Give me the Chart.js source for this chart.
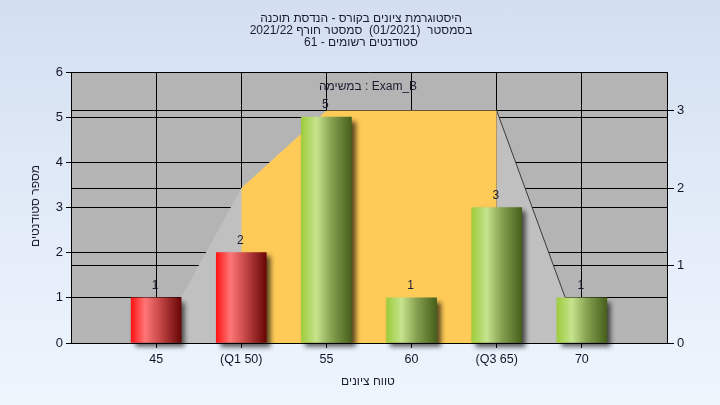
<!DOCTYPE html>
<html>
<head>
<meta charset="utf-8">
<script src="https://cdn.jsdelivr.net/npm/chart.js@4.4.1/dist/chart.umd.min.js"></script>
<style>
  html, body { margin: 0; padding: 0; }
  body { width: 720px; height: 405px; background: linear-gradient(to bottom, #d3dff1 0%, #e4edf9 60%, #eef5fd 100%); }
  #wrap { position: relative; width: 720px; height: 405px; }
  #gradeChart { position: absolute; left: 0; top: 0; }
  .lbl {
    position: absolute;
    font: 12px "Liberation Sans", "DejaVu Sans", Arial, sans-serif;
    line-height: 12px;
    color: #1c1c30;
    white-space: pre;
    transform: translate(-50%, -50%);
  }
  .rot { transform: translate(-50%, -50%) rotate(-90deg); }
</style>
</head>
<body>
<div id="wrap">
  <canvas id="gradeChart" width="720" height="405"></canvas>
</div>
<script>
// data
const gradeValues = [45, 50, 55, 60, 65, 70];
const gradeLabels = ['45', '(Q1 50)', '55', '60', '(Q3 65)', '70'];
const studentCounts = [1, 2, 5, 1, 3, 1];
const curveValues = [0, 2, 3, 3, 3, 0];   // background envelope, right axis
const q1 = 50;
const q3 = 65;

const titleLines = [
    'היסטוגרמת ציונים בקורס - הנדסת תוכנה',
    'בסמסטר  (01/2021)  סמסטר חורף 2021/22',
    'סטודנטים רשומים - 61'
];
const examLabel = 'במשימה : Exam_B';
const xTitle = 'טווח ציונים';
const yTitle = 'מספר סטודנטים';

const FONT = '"Liberation Sans", "DejaVu Sans", Arial, sans-serif';
Chart.defaults.font.family = FONT;
Chart.defaults.font.size = 12;
Chart.defaults.color = '#15152a';

// text overlays
const wrap = document.getElementById('wrap');
function addLabel(text, x, y, cls) {
    const d = document.createElement('div');
    d.className = 'lbl' + (cls ? ' ' + cls : '');
    d.textContent = text;
    d.style.left = x + 'px';
    d.style.top = y + 'px';
    wrap.appendChild(d);
}
titleLines.forEach((t, i) => addLabel(t, 361, 18 + i * 12));
addLabel(examLabel, 368, 86);
addLabel(xTitle, 368, 381);
addLabel(yTitle, 35, 206, 'rot');

const barData = gradeValues.map((g, i) => ({ x: g, y: studentCounts[i] }));
const curveData = gradeValues.map((g, i) => ({ x: g, y: curveValues[i] }));
const iqrData = curveData.filter(p => p.x >= q1 && p.x <= q3);

function barGradient(c) {
    if (c.type !== 'data' || !c.raw) return '#999';
    const chart = c.chart;
    const low = c.raw.x <= q1;
    const cx = chart.scales.x ? chart.scales.x.getPixelForValue(c.raw.x) : NaN;
    if (!isFinite(cx)) return low ? '#d03030' : '#90b048';
    const g = chart.ctx.createLinearGradient(cx - 25, 0, cx + 25, 0);
    if (low) {
        g.addColorStop(0, '#ff1414');
        g.addColorStop(0.28, '#ff7676');
        g.addColorStop(0.55, '#cc4b4b');
        g.addColorStop(1, '#680606');
    } else {
        g.addColorStop(0, '#9ccc3c');
        g.addColorStop(0.3, '#c6e38e');
        g.addColorStop(0.6, '#86a14f');
        g.addColorStop(1, '#46601c');
    }
    return g;
}

const plotBackground = {
    id: 'plotBackground',
    beforeDraw(chart) {
        const { ctx, chartArea: a } = chart;
        ctx.save();
        ctx.fillStyle = '#b4b4b4';
        ctx.fillRect(a.left, a.top, a.right - a.left, a.bottom - a.top);
        ctx.restore();
    }
};

const barShadow = {
    id: 'barShadow',
    beforeDatasetDraw(chart, args) {
        if (args.index !== 0) return;
        const ctx = chart.ctx;
        ctx.save();
        ctx.shadowColor = 'rgba(0,0,0,0.65)';
        ctx.shadowBlur = 5;
        ctx.shadowOffsetX = 4;
        ctx.shadowOffsetY = 4;
    },
    afterDatasetDraw(chart, args) {
        if (args.index !== 0) return;
        chart.ctx.restore();
    }
};

// value labels over the bars
const barValues = {
    id: 'barValues',
    afterDatasetsDraw(chart) {
        const ctx = chart.ctx;
        ctx.save();
        ctx.textAlign = 'center';
        ctx.textBaseline = 'middle';
        ctx.fillStyle = '#1c1c30';
        ctx.font = '12px ' + FONT;
        chart.getDatasetMeta(0).data.forEach((bar, i) => {
            ctx.fillText(String(studentCounts[i]), bar.x - 1, bar.y - 12);
        });
        ctx.restore();
    }
};

const ctx = document.getElementById('gradeChart').getContext('2d');
const gradeChart = new Chart(ctx, {
    data: {
        datasets: [
            {
                type: 'bar',
                data: barData,
                xAxisID: 'x',
                yAxisID: 'y',
                backgroundColor: barGradient,
                borderWidth: 0,
                barThickness: 50,
                clip: false,
                order: 0
            },
            {
                type: 'line',
                data: iqrData,
                xAxisID: 'x',
                yAxisID: 'y2',
                fill: 'origin',
                backgroundColor: '#ffcb58',
                borderWidth: 0,
                pointRadius: 0,
                order: 1
            },
            {
                type: 'line',
                data: curveData,
                xAxisID: 'x',
                yAxisID: 'y2',
                fill: 'origin',
                backgroundColor: '#c0c0c0',
                borderWidth: 1,
                borderColor: '#3a3a3a',
                segment: {
                    borderColor: c => c.p0.parsed.x >= q3 ? '#3a3a3a' : 'rgba(0,0,0,0)'
                },
                pointRadius: 0,
                order: 2
            }
        ]
    },
    options: {
        responsive: false,
        animation: false,
        layout: { padding: { top: 72, left: 0, right: 0, bottom: 0 } },
        plugins: {
            legend: { display: false },
            tooltip: { enabled: false }
        },
        scales: {
            x: {
                type: 'linear',
                position: 'bottom',
                min: 40,
                max: 75,
                offset: false,
                afterBuildTicks: s => { s.ticks = gradeValues.map(v => ({ value: v })); },
                afterFit: s => { s.height = 62; },
                grid: { color: '#000', lineWidth: 1, tickLength: 5, offset: false },
                border: { color: '#000', width: 1 },
                ticks: {
                    padding: 4,
                    font: { size: 12.5 },
                    color: '#15152a',
                    callback: v => gradeLabels[gradeValues.indexOf(v)] ?? ''
                }
            },
            y: {
                position: 'left',
                min: 0,
                max: 6,
                afterBuildTicks: s => { s.ticks = [0, 1, 2, 3, 4, 5, 6].map(v => ({ value: v })); },
                afterFit: s => { s.width = 71; },
                grid: { color: '#000', lineWidth: 1, tickLength: 5 },
                border: { color: '#000', width: 1 },
                ticks: { padding: 3, font: { size: 13 }, color: '#15152a' }
            },
            y2: {
                position: 'right',
                min: 0,
                max: 3.5,
                afterBuildTicks: s => { s.ticks = [0, 1, 2, 3].map(v => ({ value: v })); },
                afterFit: s => { s.width = 53; },
                grid: { color: '#000', lineWidth: 1, tickLength: 7 },
                border: { color: '#000', width: 1 },
                ticks: { padding: 3, font: { size: 13 }, color: '#15152a' }
            }
        }
    },
    plugins: [plotBackground, barShadow, barValues]
});
</script>
</body>
</html>
